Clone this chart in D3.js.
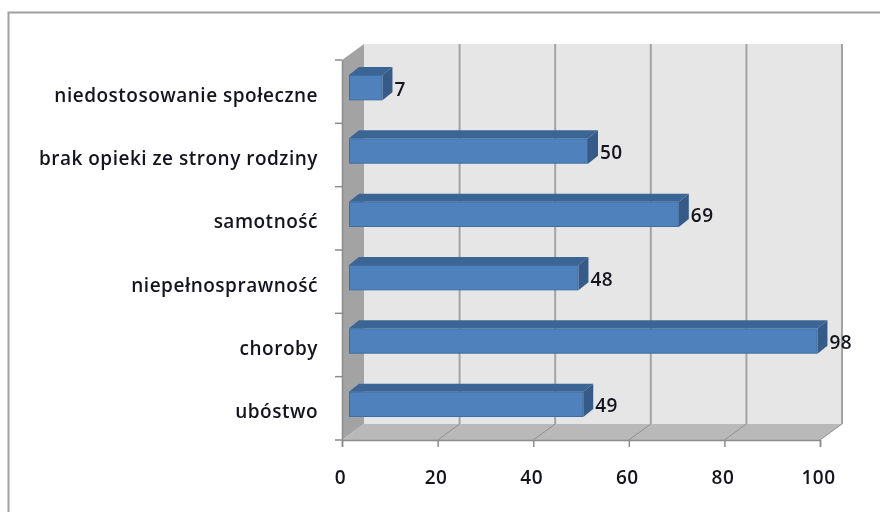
<!DOCTYPE html>
<html>
<head>
<meta charset="utf-8">
<script src="https://cdn.jsdelivr.net/npm/d3@7"></script>
<style>
  body { margin: 0; background: #fff; }
  svg { display: block; filter: blur(0.5px); }
  text { font-family: "Open Sans", sans-serif; font-weight: 600; font-size: 19px; letter-spacing: 0.5px; fill: #14141e; }
</style>
</head>
<body>
<script>
var categories = ['ubóstwo', 'choroby', 'niepełnosprawność', 'samotność', 'brak opieki ze strony rodziny', 'niedostosowanie społeczne']
var values = [49, 98, 48, 69, 50, 7]
var xTicks = [0, 20, 40, 60, 80, 100]

var width = 880, height = 512

// plot box of the front plane, and the 3d offsets
var left = 342, right = 820, top_ = 60, bottom = 440
var wallDx = 22, wallDy = -16
var barDx = 10, barDy = -8, barInset = 7, barShift = -4

var x = d3.scaleLinear().domain([0, 100]).range([left, right])
var y = d3.scaleBand().domain(categories).range([bottom, top_]).paddingInner(0.6).paddingOuter(0.3)

var svg = d3.select('body').append('svg').attr('width', width).attr('height', height)

function poly(points, fill, stroke) {
  return svg.append('polygon')
    .attr('points', points.map(function(p) { return p.join(',') }).join(' '))
    .attr('fill', fill)
    .attr('stroke', stroke || 'none')
}

// outer chart border, runs off the page right and bottom
svg.append('path')
  .attr('d', 'M8.5,' + height + 'V12.5H' + width)
  .attr('fill', 'none').attr('stroke', '#a0a0a0').attr('stroke-width', 2)

// walls and floor
poly([[left + wallDx, top_ + wallDy], [right + wallDx, top_ + wallDy], [right + wallDx, bottom + wallDy], [left + wallDx, bottom + wallDy]], '#e6e6e6')
poly([[left, top_], [left + wallDx, top_ + wallDy], [left + wallDx, bottom + wallDy], [left, bottom]], '#a3a3a3')
poly([[left, bottom], [left + wallDx, bottom + wallDy], [right + wallDx, bottom + wallDy], [right, bottom]], '#b9b9b9')

// gridlines on wall and floor
svg.selectAll('.grid').data(xTicks.slice(1)).enter().append('line')
  .attr('class', 'grid')
  .attr('x1', function(d) { return x(d) + wallDx }).attr('x2', function(d) { return x(d) + wallDx })
  .attr('y1', top_ + wallDy).attr('y2', bottom + wallDy)
  .attr('stroke', '#a3a3a3').attr('stroke-width', 2)
svg.selectAll('.floorgrid').data(xTicks.slice(1)).enter().append('line')
  .attr('class', 'floorgrid')
  .attr('x1', function(d) { return x(d) }).attr('x2', function(d) { return x(d) + wallDx })
  .attr('y1', bottom).attr('y2', bottom + wallDy)
  .attr('stroke', '#909090').attr('stroke-width', 1)

// bars: front, top and end faces
var bars = svg.selectAll('.bar').data(categories).enter().append('g').attr('class', 'bar')
bars.each(function(c, i) {
  var g = d3.select(this)
  var x0 = x(0) + barInset, x1 = x(values[i]) + barInset
  var y0 = y(c) + barShift, y1 = y0 + y.bandwidth()
  g.append('polygon')
    .attr('points', [[x0, y0], [x0 + barDx, y0 + barDy], [x1 + barDx, y0 + barDy], [x1, y0]].join(' '))
    .attr('fill', '#3b6595')
  g.append('polygon')
    .attr('points', [[x1, y0], [x1 + barDx, y0 + barDy], [x1 + barDx, y1 + barDy], [x1, y1]].join(' '))
    .attr('fill', '#365b88')
  g.append('rect')
    .attr('x', x0 + 0.5).attr('y', y0 + 0.5)
    .attr('width', x1 - x0 - 1).attr('height', y1 - y0 - 1)
    .attr('fill', '#4f81bd').attr('stroke', '#3f6d9f')
  g.append('text')
    .attr('x', x1 + barDx + 2)
    .attr('y', y0 + y.bandwidth() / 2 + 8)
    .text(values[i])
})

// axes
var xAxis = svg.append('g').attr('transform', 'translate(0,' + bottom + ')')
  .call(d3.axisBottom(x).tickValues(xTicks).tickSize(7).tickPadding(24).tickFormat(d3.format('d')))
var yAxis = svg.append('g').attr('transform', 'translate(' + left + ',0)')
  .call(d3.axisLeft(y).tickSize(0).tickPadding(24))

;[xAxis, yAxis].forEach(function(a) {
  a.selectAll('.domain').attr('stroke', '#8c8c8c').attr('stroke-width', 1.5)
  a.selectAll('.tick line').attr('stroke', '#8c8c8c').attr('stroke-width', 1.5)
  a.selectAll('text').style('font-family', null).attr('font-size', null).attr('fill', null)
})
xAxis.selectAll('.tick text').attr('dx', -2)
yAxis.selectAll('.tick text').attr('dy', 10)

// category separator ticks sit on band edges, not centres
svg.selectAll('.ytick').data(d3.range(categories.length + 1)).enter().append('line')
  .attr('class', 'ytick')
  .attr('x1', left - 7).attr('x2', left)
  .attr('y1', function(i) { return bottom - i * y.step() })
  .attr('y2', function(i) { return bottom - i * y.step() })
  .attr('stroke', '#8c8c8c').attr('stroke-width', 1.5)
</script>
</body>
</html>
